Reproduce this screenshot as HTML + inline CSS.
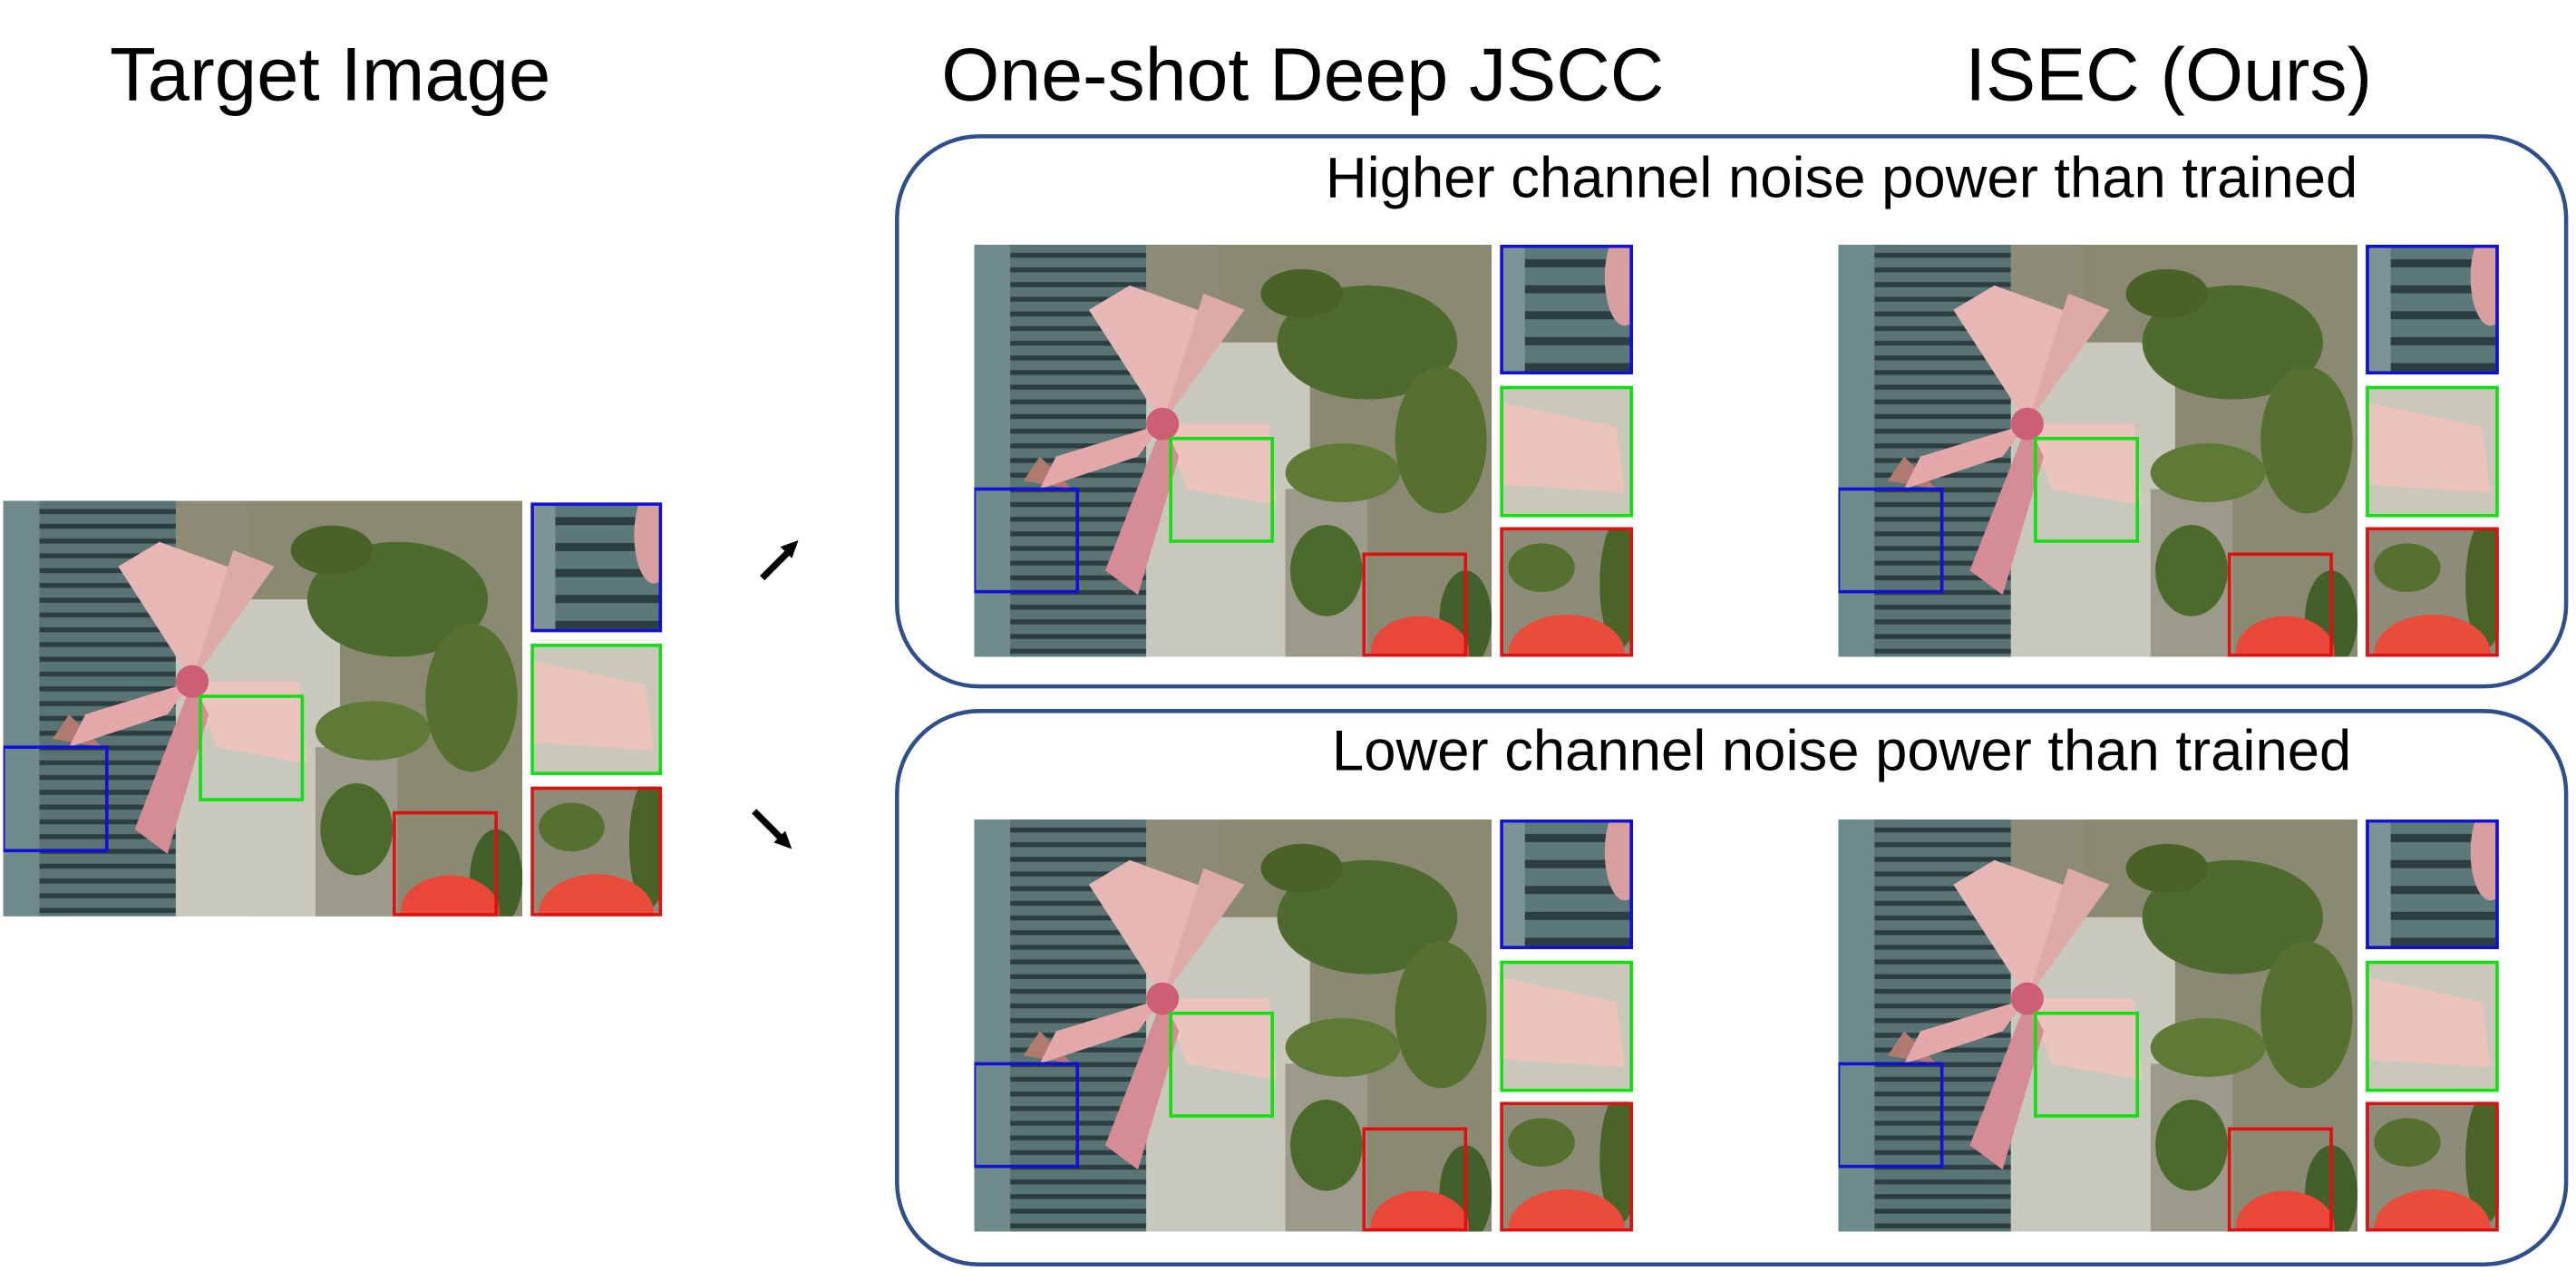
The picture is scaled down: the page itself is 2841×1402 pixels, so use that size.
<!DOCTYPE html>
<html><head><meta charset="utf-8"><style>
html,body{margin:0;padding:0;background:#fff;}
svg{display:block;}
text{font-family:"Liberation Sans",Arial,sans-serif;fill:#000;}
</style></head><body>
<svg width="2841" height="1402" viewBox="0 0 1568 774" preserveAspectRatio="none" xmlns="http://www.w3.org/2000/svg">
<defs>
<pattern id="slats" width="10" height="9" patternUnits="userSpaceOnUse">
<rect width="10" height="9" fill="#5a7474"/><rect y="5" width="10" height="3" fill="#2c3e40"/>
</pattern>
<pattern id="slats2" width="20" height="16" patternUnits="userSpaceOnUse">
<rect width="20" height="16" fill="#5d7878"/><rect y="9" width="20" height="5" fill="#2c3e40"/>
</pattern>
<symbol id="photo" viewBox="0 0 316 253" preserveAspectRatio="none">
<rect width="316" height="253" fill="#8d8a76"/>
<rect x="150" y="0" width="166" height="253" fill="#8a8a72"/>
<rect x="95" y="60" width="110" height="193" fill="#c9c8bd"/>
<rect x="190" y="150" width="50" height="103" fill="#9c9a8a"/>
<rect x="0" y="0" width="40" height="253" fill="#7e9696"/>
<rect x="20" y="0" width="85" height="253" fill="url(#slats)"/>
<rect x="0" y="0" width="22" height="253" fill="#6f8a8a"/>
<ellipse cx="240" cy="60" rx="55" ry="35" fill="#4f6a2e"/>
<ellipse cx="285" cy="120" rx="28" ry="45" fill="#56712f"/>
<ellipse cx="225" cy="140" rx="35" ry="18" fill="#5f7a36"/>
<ellipse cx="200" cy="30" rx="25" ry="15" fill="#4a6128"/>
<ellipse cx="215" cy="200" rx="22" ry="28" fill="#4c6a2c"/>
<ellipse cx="300" cy="230" rx="16" ry="30" fill="#44602a"/>
<path d="M60 150 L40 130 L30 145 Z" fill="#b07a70"/>
<path d="M115 110 L70 40 L95 25 L150 45 Z" fill="#e7b7b6"/>
<path d="M115 110 L140 30 L165 40 Z" fill="#deaaa8"/>
<path d="M115 110 L180 110 L185 160 L130 150 Z" fill="#ebc4bd"/>
<path d="M115 110 L80 200 L100 215 L125 130 Z" fill="#d68c94"/>
<path d="M115 110 L50 130 L40 150 L100 130 Z" fill="#e4a8ab"/>
<circle cx="115" cy="110" r="10" fill="#cc5f74"/>
<ellipse cx="272" cy="250" rx="30" ry="22" fill="#e8473a"/>
<rect x="0" y="150" width="63" height="63" fill="none" stroke="#1010d8" stroke-width="2"/>
<rect x="120" y="119" width="62" height="63" fill="none" stroke="#10e010" stroke-width="2"/>
<rect x="238" y="190" width="62" height="62" fill="none" stroke="#e01010" stroke-width="2"/>
</symbol>
<symbol id="cb" viewBox="0 0 80 80" preserveAspectRatio="none">
<rect width="80" height="80" fill="#7c9494"/><rect x="15" width="65" height="80" fill="url(#slats2)"/>
<ellipse cx="75" cy="20" rx="12" ry="30" fill="#d79fa0"/>
<rect x="1" y="1" width="78" height="78" fill="none" stroke="#1010d8" stroke-width="2"/>
</symbol>
<symbol id="cg" viewBox="0 0 80 80" preserveAspectRatio="none">
<rect width="80" height="80" fill="#c9c8bb"/>
<path d="M0 10 L70 25 L75 65 L0 60 Z" fill="#ebc3bb"/>
<rect x="1" y="1" width="78" height="78" fill="none" stroke="#10e010" stroke-width="2"/>
</symbol>
<symbol id="cr" viewBox="0 0 80 80" preserveAspectRatio="none">
<rect width="80" height="80" fill="#8d8c7a"/>
<ellipse cx="25" cy="25" rx="20" ry="15" fill="#56712f"/>
<ellipse cx="72" cy="35" rx="12" ry="40" fill="#4a6428"/>
<ellipse cx="40" cy="78" rx="35" ry="24" fill="#ea4c3c"/>
<rect x="1" y="1" width="78" height="78" fill="none" stroke="#e01010" stroke-width="2"/>
</symbol>
</defs>

<text x="201" y="61" font-size="46" text-anchor="middle">Target Image</text>
<text x="793" y="61" font-size="45.5" text-anchor="middle">One-shot Deep JSCC</text>
<text x="1320" y="61" font-size="45.5" text-anchor="middle">ISEC (Ours)</text>

<use href="#photo" x="2" y="305" width="316" height="253"/>
<use href="#cb" x="323" y="306" width="80" height="79"/>
<use href="#cg" x="323" y="392" width="80" height="80"/>
<use href="#cr" x="323" y="479" width="80" height="79"/>

<line x1="464" y1="352" x2="480" y2="336" stroke="#000" stroke-width="4"/>
<polygon points="486,329 475,333 482,340" fill="#000"/>
<line x1="459" y1="494" x2="475" y2="510" stroke="#000" stroke-width="4"/>
<polygon points="482,517 471,513 478,506" fill="#000"/>

<rect x="546" y="83" width="1016" height="335" rx="50" fill="none" stroke="#2f4f8c" stroke-width="2.5"/>
<rect x="546" y="433" width="1016" height="337" rx="50" fill="none" stroke="#2f4f8c" stroke-width="2.5"/>
<text x="1121" y="120" font-size="35" text-anchor="middle">Higher channel noise power than trained</text>
<text x="1121" y="469" font-size="35" text-anchor="middle">Lower channel noise power than trained</text>

<g>
<use href="#photo" x="593" y="149" width="315" height="251"/>
<use href="#cb" x="913" y="149" width="81" height="79"/>
<use href="#cg" x="913" y="235" width="81" height="80"/>
<use href="#cr" x="913" y="321" width="81" height="79"/>
<use href="#photo" x="1119" y="149" width="316" height="251"/>
<use href="#cb" x="1440" y="149" width="81" height="79"/>
<use href="#cg" x="1440" y="235" width="81" height="80"/>
<use href="#cr" x="1440" y="321" width="81" height="79"/>
</g>
<g>
<use href="#photo" x="593" y="499" width="315" height="251"/>
<use href="#cb" x="913" y="499" width="81" height="79"/>
<use href="#cg" x="913" y="585" width="81" height="80"/>
<use href="#cr" x="913" y="671" width="81" height="79"/>
<use href="#photo" x="1119" y="499" width="316" height="251"/>
<use href="#cb" x="1440" y="499" width="81" height="79"/>
<use href="#cg" x="1440" y="585" width="81" height="80"/>
<use href="#cr" x="1440" y="671" width="81" height="79"/>
</g>
</svg>
</body></html>
